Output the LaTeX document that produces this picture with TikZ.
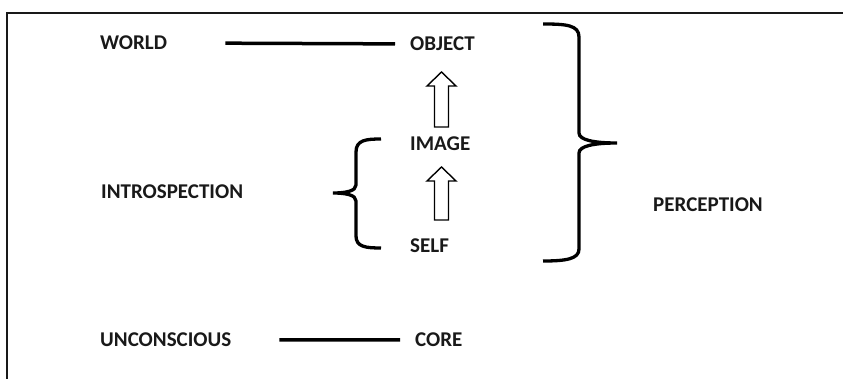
\documentclass[tikz,border=0pt]{standalone}
\usepackage{fontspec}
\setmainfont{Carlito}
\usetikzlibrary{calc}
\tikzset{
  lbl/.style={inner sep=0pt, anchor=base west, text=black!90, font=\fontsize{21}{25}\selectfont\bfseries},
  joinline/.style={line width=3.5pt},
  bracepath/.style={line width=3.3pt, line cap=butt},
  blockarrow/.style={line width=1.4pt, line join=miter, fill=white},
  frameline/.style={line width=2pt, draw=black!90}
}
\begin{document}
\begin{tikzpicture}[x=1pt,y=-1pt]
\useasboundingbox (0,0) rectangle (843,379);
\clip (0,0) rectangle (843,379);
\fill[white] (0,0) rectangle (843,379);
% frame (right and bottom sides lie outside the picture)
\draw[frameline] (7,13) rectangle (860,400);

% labels
\node[lbl] (world)  at (100,50)    {WORLD};
\node[lbl] (object) at (410,50.7)  {OBJECT};
\node[lbl] (image)  at (410,151)   {IMAGE};
\node[lbl] (self)   at (410,252.7) {SELF};
\node[lbl] (intro)  at (101,198.3) {INTROSPECTION};
\node[lbl] (perc)   at (653,211.7) {PERCEPTION};
\node[lbl] (uncon)  at (100,346.7) {UNCONSCIOUS};
\node[lbl] (core)   at (415,346.7) {CORE};

% connecting lines
\draw[joinline] ([xshift=58pt]world.east) -- ([xshift=-15pt]object.west);
\draw[joinline] ([xshift=48pt]uncon.east) -- ([xshift=-15pt]core.west);

% block arrows (tip, tail)
\coordinate (a1tip) at (441.5,72);
\coordinate (a1end) at (441.5,127);
\coordinate (a2tip) at (441.5,167);
\coordinate (a2end) at (441.5,220);
\foreach \t/\e in {a1tip/a1end, a2tip/a2end}{
  \draw[blockarrow]
    ($(\e)+(-7,0)$) -- ($(\t)+(-7,14)$) -- ($(\t)+(-14.5,14)$) -- (\t)
    -- ($(\t)+(14.5,14)$) -- ($(\t)+(7,14)$) -- ($(\e)+(7,0)$) -- cycle;
}

% small brace (introspection)
\coordinate (sbtop) at (381,139);
\coordinate (sbtip) at (333,193);
\coordinate (sbbot) at (381,248);
\draw[bracepath] (sbtop) .. controls (366,139) and (356,140) .. (356,152)
  -- (356,185) .. controls (356,191) and (346,193) .. (sbtip)
  .. controls (346,193) and (356,195) .. (356,201)
  -- (356,236) .. controls (356,247) and (366,248) .. (sbbot);

% big brace (perception)
\coordinate (bbtop) at (543,24);
\coordinate (bbtip) at (617,143);
\coordinate (bbbot) at (543,261);
\draw[bracepath] (bbtop) .. controls (566,24) and (579,25) .. (579,37)
  -- (579,133) .. controls (579,140) and (594,143) .. (bbtip)
  .. controls (594,143) and (579,146) .. (579,153)
  -- (579,249) .. controls (579,259) and (566,261) .. (bbbot);
\end{tikzpicture}
\end{document}
